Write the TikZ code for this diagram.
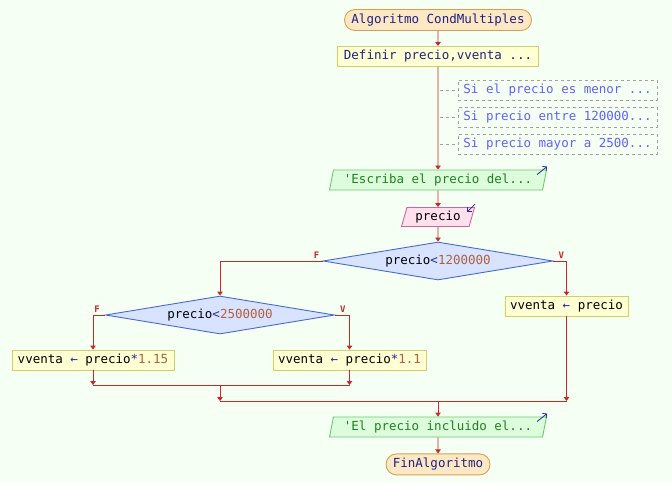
\documentclass[tikz,border=0pt]{standalone}
\usepackage{fontspec}
\setmonofont{DejaVu Sans Mono}
\usetikzlibrary{arrows.meta,positioning,shapes.geometric,shapes.misc,calc}

\definecolor{bgcol}{RGB}{246,255,244}
\definecolor{flow}{RGB}{200,40,40}
\definecolor{termfill}{RGB}{252,232,196}
\definecolor{termline}{RGB}{214,160,80}
\definecolor{termtext}{RGB}{32,32,128}
\definecolor{asgfill}{RGB}{255,255,212}
\definecolor{asgline}{RGB}{208,208,100}
\definecolor{notegray}{RGB}{160,160,160}
\definecolor{notetext}{RGB}{96,96,255}
\definecolor{outfill}{RGB}{220,252,220}
\definecolor{outline}{RGB}{110,200,110}
\definecolor{outtext}{RGB}{32,128,32}
\definecolor{inpfill}{RGB}{255,224,236}
\definecolor{inpline}{RGB}{214,100,156}
\definecolor{condfill}{RGB}{216,228,255}
\definecolor{condline}{RGB}{72,104,212}
\definecolor{opblue}{RGB}{40,40,160}
\definecolor{numcol}{RGB}{176,96,64}

\begin{document}
\begin{tikzpicture}[
  x=1pt, y=-1pt,
  font=\ttfamily\fontsize{12.5}{14}\selectfont,
  term/.style={rounded rectangle, draw=termline, fill=termfill, text=termtext, minimum height=21pt, inner sep=0pt, line width=0.9pt},
  assign/.style={draw=asgline, fill=asgfill, minimum height=20pt, inner sep=0pt, line width=0.9pt},
  note/.style={draw=notegray, dashed, text=notetext, minimum width=199pt, minimum height=20pt, inner sep=0pt},
  outp/.style={trapezium, trapezium left angle=72, trapezium right angle=108, trapezium stretches body, draw=outline, fill=outfill, text=outtext, minimum width=217pt, minimum height=20pt, inner sep=0pt, line width=0.9pt},
  inp/.style={trapezium, trapezium left angle=66, trapezium right angle=114, trapezium stretches body, draw=inpline, fill=inpfill, minimum width=73pt, minimum height=19pt, inner sep=0pt, line width=0.9pt},
  cond/.style={diamond, aspect=6, draw=condline, fill=condfill, minimum height=38pt, inner sep=0pt, line width=0.9pt},
  arr/.style={-{Triangle[length=4pt,width=5.5pt]}, flow, line width=0.9pt},
  line/.style={flow, line width=0.9pt},
  notelink/.style={notegray, dashed, line width=0.8pt},
  ioarr/.style={-{Straight Barb[length=3pt]}, opblue, line width=0.8pt},
  lbl/.style={text=flow, font=\ttfamily\bfseries\fontsize{9}{10}\selectfont}
]
\fill[bgcol] (0,0) rectangle (672,482);
\useasboundingbox (0,0) rectangle (672,482);

% main column
\node[term, minimum width=187pt] (ini) at (438,20) {Algoritmo CondMultiples};
\node[assign, text=termtext, minimum width=201pt, below=15pt of ini] (def) {Definir precio,vventa ...};
\node[note] (n1) at (557.5,90) {Si el precio es menor ...};
\node[note] (n2) at (557.5,117) {Si precio entre 120000...};
\node[note] (n3) at (557.5,144) {Si precio mayor a 2500...};
\node[outp] (esc1) at (438,180) {'Escriba el precio del...};
\node[inp] (leer) at (438,217) {precio};
\node[cond, minimum width=230pt] (d1) at (438,261) {precio\textcolor{opblue}{<}\textcolor{numcol}{1200000}};

% branches
\node[cond, minimum width=229pt] (d2) at (220,315) {precio\textcolor{opblue}{<}\textcolor{numcol}{2500000}};
\node[assign, minimum width=162pt] (a1) at (93,360) {vventa \textcolor{opblue}{←} precio\textcolor{opblue}{*}\textcolor{numcol}{1.15}};
\node[assign, minimum width=153pt] (a2) at (349.5,360) {vventa \textcolor{opblue}{←} precio\textcolor{opblue}{*}\textcolor{numcol}{1.1}};
\node[assign, minimum width=123pt] (a3) at (566.5,306) {vventa \textcolor{opblue}{←} precio};

\node[outp] (esc2) at (438,427) {'El precio incluido el...};
\node[term, minimum width=104pt, below=16pt of esc2] (fin) {FinAlgoritmo};

\node[lbl] (f1) at ($(d1.west)+(-6,-6)$) {F};
\node[lbl] (v1) at ($(d1.east)+(8,-6)$) {V};
\node[lbl] (f2) at ($(d2.west)+(-8,-6)$) {F};
\node[lbl] (v2) at ($(d2.east)+(8,-6)$) {V};

\coordinate (j1) at (220,385);
\coordinate (j2) at (438,401);

% connectors
\draw[arr] (ini) -- (def);
\draw[arr] (def) -- (esc1);
\draw[notelink] (n1.west -| def.south) ++(2,0) -- (n1.west);
\draw[notelink] (n2.west -| def.south) ++(2,0) -- (n2.west);
\draw[notelink] (n3.west -| def.south) ++(2,0) -- (n3.west);
\draw[arr] (esc1) -- (leer);
\draw[arr] (leer) -- (d1);
\draw[arr] (d1.west) -| (d2.north);
\draw[arr] (d1.east) -| (a3.north);
\draw[arr] (d2.west) -| (a1.north);
\draw[arr] (d2.east) -| (a2.north);
\draw[arr] (a1.south) -- (a1.south |- j1);
\draw[arr] (a2.south) -- (a2.south |- j1);
\draw[line] (a1.south |- j1) -- (a2.south |- j1);
\draw[arr] (j1) -- (j1 |- j2);
\draw[arr] (a3.south) -- (a3.south |- j2);
\draw[line] (j1 |- j2) -- (a3.south |- j2);
\draw[arr] (j2) -- (esc2);
\draw[arr] (esc2) -- (fin);

% io marks
\draw[ioarr] ($(esc1.top right corner)+(-10,5)$) -- ++(10,-8);
\draw[ioarr] ($(leer.top right corner)+(0,-3)$) -- ++(-8,8);
\draw[ioarr] ($(esc2.top right corner)+(-10,5)$) -- ++(10,-8);
\end{tikzpicture}
\end{document}
